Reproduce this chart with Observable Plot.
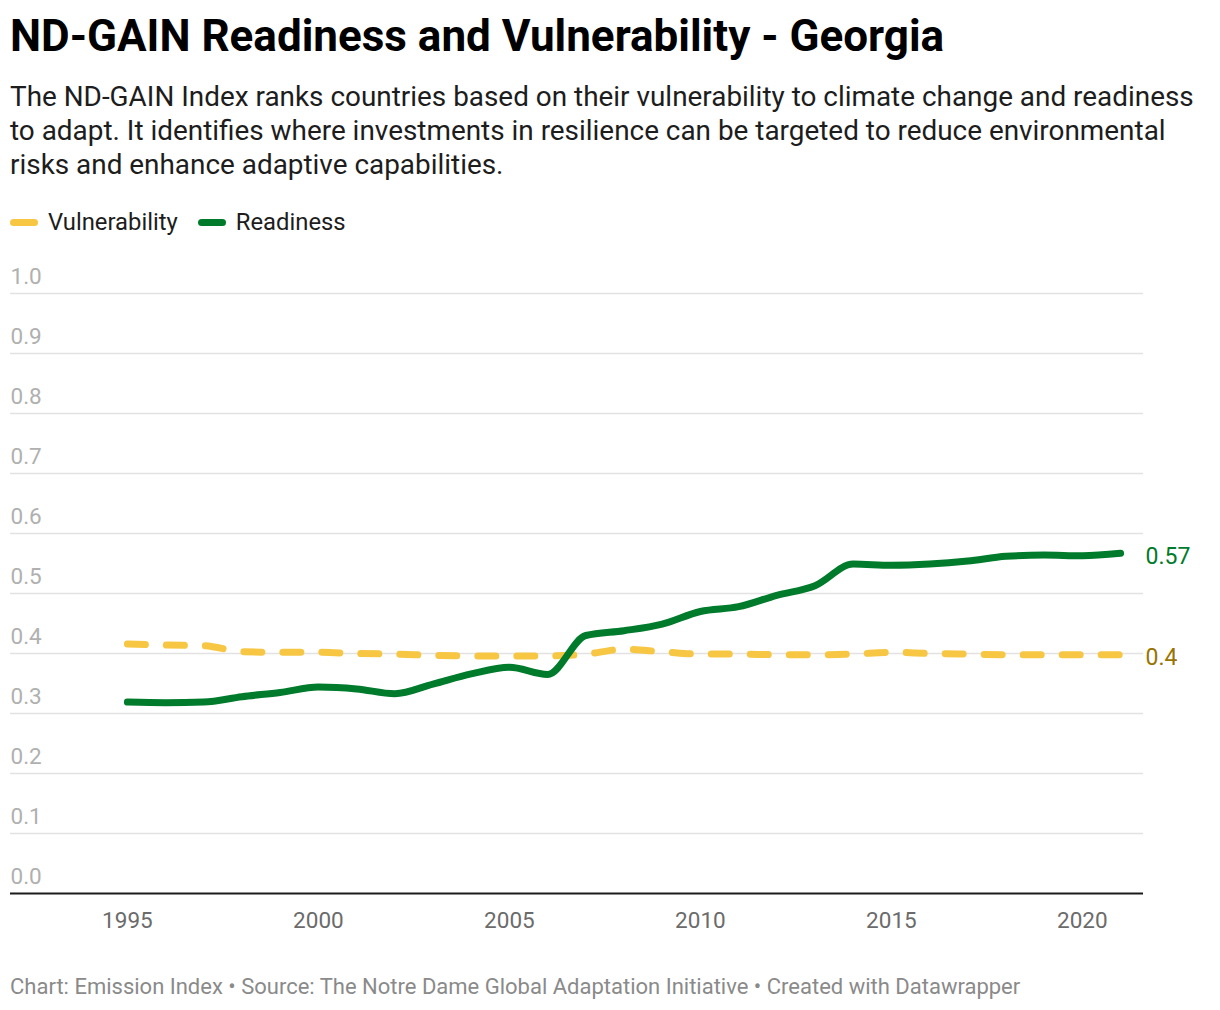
<!DOCTYPE html>
<html>
<head>
<meta charset="utf-8">
<script src="https://cdn.jsdelivr.net/npm/d3@7"></script>
<script src="https://cdn.jsdelivr.net/npm/@observablehq/plot@0.6"></script>
<style>
  html, body { margin: 0; padding: 0; background: #fff; }
  body { font-family: Roboto, "Noto Sans", sans-serif; width: 1220px; height: 1010px; position: relative; overflow: hidden; }
  #title { position: absolute; left: 10px; top: 11px; font-size: 44px; font-weight: 700; line-height: 50px; color: #000; white-space: nowrap; }
  #subtitle { position: absolute; left: 10px; top: 80px; font-size: 27.9px; line-height: 34px; color: #1d1d1d; white-space: nowrap; }
  #legend { position: absolute; left: 10px; top: 208px; height: 28px; display: flex; align-items: center; font-size: 23.8px; color: #1d1d1d; }
  .sw { display: inline-block; width: 28px; height: 7px; border-radius: 4px; margin-right: 10px; }
  .item { display: flex; align-items: center; margin-right: 20px; }
  #chart { position: absolute; left: 0; top: 250px; }
  #caption { position: absolute; left: 10px; top: 974px; font-size: 22px; line-height: 26px; color: #8a8a8a; white-space: nowrap; }
</style>
</head>
<body>
<div id="title">ND-GAIN Readiness and Vulnerability - Georgia</div>
<div id="subtitle">The ND-GAIN Index ranks countries based on their vulnerability to climate change and readiness<br>to adapt. It identifies where investments in resilience can be targeted to reduce environmental<br>risks and enhance adaptive capabilities.</div>
<div id="legend"></div>
<div id="chart"></div>
<div id="caption">Chart: Emission Index • Source: The Notre Dame Global Adaptation Initiative • Created with Datawrapper</div>
<script>
const years = [1995,1996,1997,1998,1999,2000,2001,2002,2003,2004,2005,2006,2007,2008,2009,2010,2011,2012,2013,2014,2015,2016,2017,2018,2019,2020,2021];
const readiness = [0.319,0.318,0.319,0.328,0.335,0.344,0.341,0.333,0.349,0.366,0.377,0.365,0.430,0.438,0.449,0.470,0.478,0.497,0.513,0.549,0.547,0.549,0.554,0.562,0.564,0.563,0.567];
const vulnerability = [0.416,0.414,0.413,0.403,0.402,0.402,0.400,0.399,0.397,0.396,0.396,0.396,0.399,0.407,0.403,0.399,0.399,0.398,0.398,0.399,0.402,0.400,0.399,0.398,0.398,0.398,0.398];
const seriesNames = ["Vulnerability", "Readiness"];
const seriesColors = ["#f7c744", "#007b2c"];
const labelColors = ["#9a7400", "#007b2c"];
const endLabels = ["0.4", "0.57"];
const yTicks = [0,0.1,0.2,0.3,0.4,0.5,0.6,0.7,0.8,0.9,1.0];
const xTicks = [1995,2000,2005,2010,2015,2020];
const xDomain = [1991.94, 2021.6];

const vulnData = years.map((y,i) => ({year: y, value: vulnerability[i]}));
const readData = years.map((y,i) => ({year: y, value: readiness[i]}));
const lastIdx = years.length - 1;
const ends = [
  {year: years[lastIdx], value: vulnerability[lastIdx], text: endLabels[0], color: labelColors[0]},
  {year: years[lastIdx], value: readiness[lastIdx], text: endLabels[1], color: labelColors[1]}
];

// legend
const legend = document.getElementById("legend");
seriesNames.forEach((n,i) => {
  const it = document.createElement("span");
  it.className = "item";
  const sw = document.createElement("span");
  sw.className = "sw";
  sw.style.background = seriesColors[i];
  it.appendChild(sw);
  it.appendChild(document.createTextNode(n));
  legend.appendChild(it);
});

const chart = Plot.plot({
  width: 1220,
  height: 700,
  marginTop: 43,
  marginBottom: 57,
  marginLeft: 10,
  marginRight: 77,
  style: {fontFamily: "Roboto, sans-serif", overflow: "visible", background: "transparent"},
  x: {domain: xDomain, axis: null},
  y: {domain: [0, 1], axis: null},
  marks: [
    Plot.ruleY(yTicks.filter(t => t > 0), {stroke: "#e2e2e2", strokeWidth: 1.3}),
    Plot.ruleY([0], {stroke: "#1a1a1a", strokeWidth: 2}),
    Plot.text(yTicks, {x: () => xDomain[0], y: d => d, text: d => d.toFixed(1), textAnchor: "start", dy: -17, fill: "#b0b0b0", fontSize: 22.5}),
    Plot.text(xTicks, {x: d => d, frameAnchor: "bottom", dy: 34, text: d => String(d), fill: "#6b6b6b", fontSize: 22.5}),
    Plot.line(vulnData, {x: "year", y: "value", stroke: seriesColors[0], strokeWidth: 7, strokeDasharray: "18,21", strokeLinecap: "round", curve: "monotone-x"}),
    Plot.line(readData, {x: "year", y: "value", stroke: seriesColors[1], strokeWidth: 7, strokeLinecap: "round", curve: "monotone-x"}),
    Plot.text(ends, {x: "year", y: "value", text: "text", fill: "color", textAnchor: "start", dx: 25, dy: 3, fontSize: 23})
  ]
});
document.getElementById("chart").appendChild(chart);
</script>
</body>
</html>
